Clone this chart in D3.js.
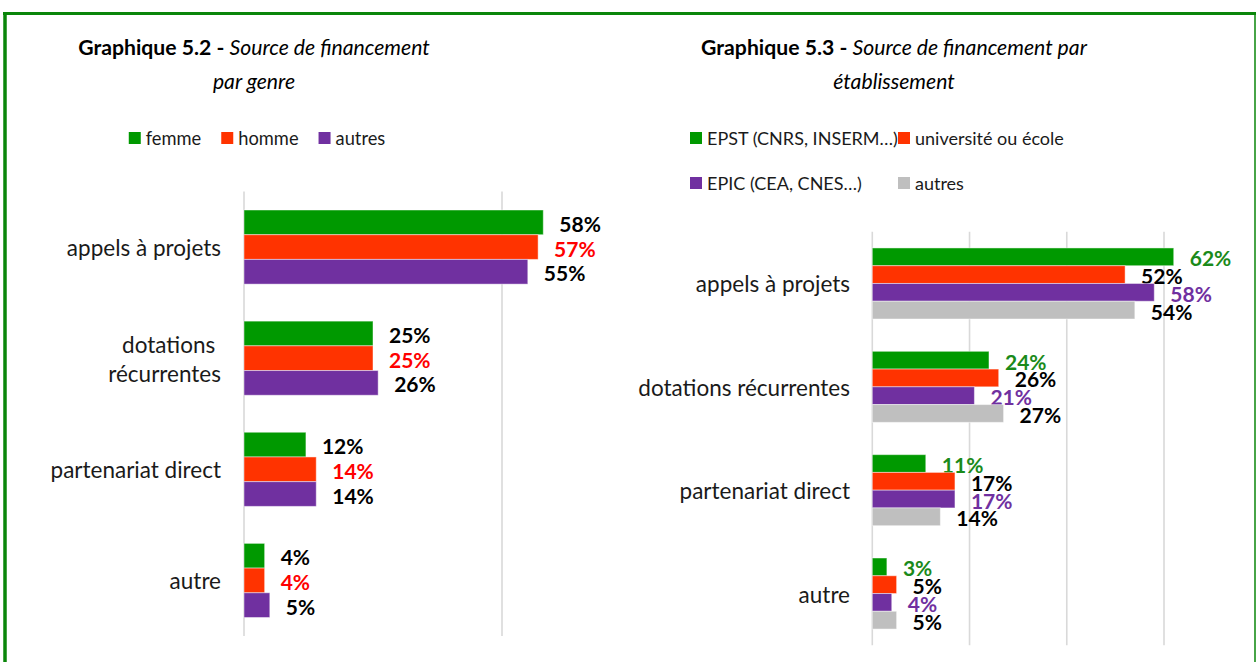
<!DOCTYPE html>
<html>
<head>
<meta charset="utf-8">
<script src="https://cdn.jsdelivr.net/npm/d3@7"></script>
<style>
  html, body { margin: 0; padding: 0; background: #fff; }
  svg { display: block; font-family: Lato, "Open Sans", sans-serif; }
</style>
</head>
<body>
<svg id="chart" width="1256" height="662"></svg>
<script>
// ---- Data ----
const categories = ["appels à projets", "dotations récurrentes", "partenariat direct", "autre"];

// Graphique 5.2 : by gender
const genreSeries = ["femme", "homme", "autres"];
const genreFemme  = [0.58, 0.25, 0.12, 0.04];
const genreHomme  = [0.57, 0.25, 0.14, 0.04];
const genreAutres = [0.55, 0.26, 0.14, 0.05];
const genreTicks  = [0, 0.5];

// Graphique 5.3 : by institution
const etabSeries = ["EPST (CNRS, INSERM…)", "université ou école", "EPIC (CEA, CNES…)", "autres"];
const etabEPST   = [0.62, 0.24, 0.11, 0.03];
const etabUniv   = [0.52, 0.26, 0.17, 0.05];
const etabEPIC   = [0.58, 0.21, 0.17, 0.04];
const etabAutres = [0.54, 0.27, 0.14, 0.05];
const etabTicks  = [0, 0.2, 0.4, 0.6];

const svg = d3.select("#chart");
const pct = d3.format(".0%");
const TEXT = "#1a1a1a";

// ---- Frame ----
const frame = svg.append("g").attr("stroke", "#0a860a").attr("fill", "none");
frame.append("line").attr("x1", 3).attr("x2", 1256).attr("y1", 13.5).attr("y2", 13.5).attr("stroke-width", 3);
frame.append("line").attr("x1", 5).attr("x2", 5).attr("y1", 12).attr("y2", 662).attr("stroke-width", 3.5);
frame.append("line").attr("x1", 1255).attr("x2", 1255).attr("y1", 12).attr("y2", 662).attr("stroke-width", 1.5);

function title(cx, bold, line1, line2) {
  const t = svg.append("text").attr("text-anchor", "middle").attr("fill", "#000").attr("font-size", 21.2);
  const l1 = t.append("tspan").attr("x", cx).attr("y", 55);
  l1.append("tspan").attr("font-weight", "bold").text(bold + " - ");
  l1.append("tspan").attr("font-style", "italic").text(line1);
  t.append("tspan").attr("x", cx).attr("y", 89).attr("font-style", "italic").text(line2);
}

function drawChart(cfg) {
  const g = svg.append("g");
  const x = d3.scaleLinear().domain(cfg.xDomain).range(cfg.xRange);
  const y = d3.scaleBand().domain(categories).range(cfg.yRange)
    .paddingInner(cfg.padInner).paddingOuter(cfg.padInner / 2);
  const ys = d3.scaleBand().domain(cfg.series).range([0, y.bandwidth()]);

  // vertical gridlines
  g.append("g").selectAll("line").data(cfg.ticks).join("line")
    .attr("x1", d => x(d)).attr("x2", d => x(d))
    .attr("y1", cfg.yRange[0]).attr("y2", cfg.yRange[1])
    .attr("stroke", "#d9d9d9").attr("stroke-width", 1.6);

  // category labels (wrapped when too wide)
  const lab = g.append("g").attr("font-size", 22.5).attr("fill", TEXT).attr("text-anchor", "end");
  categories.forEach(c => {
    const words = c.split(" ");
    const probe = lab.append("text").text(c);
    const w = probe.node().getComputedTextLength();
    probe.remove();
    let lines = [c];
    if (w > cfg.labelMax) {
      const half = Math.ceil(words.length / 2);
      lines = [words.slice(0, half).join(" ") + "\u00A0", words.slice(half).join(" ")];
    }
    const cy = y(c) + y.bandwidth() / 2;
    const lh = 29;
    const t = lab.append("text").attr("dominant-baseline", "central");
    lines.forEach((ln, i) => {
      t.append("tspan").attr("x", cfg.labelX)
        .attr("y", cy + (i - (lines.length - 1) / 2) * lh).text(ln);
    });
  });

  // bars and value labels
  cfg.series.forEach((s, si) => {
    const vals = cfg.values[si];
    g.append("g").selectAll("rect").data(categories).join("rect")
      .attr("x", x(0))
      .attr("y", (c) => y(c) + ys(s))
      .attr("width", (c, i) => x(vals[i]) - x(0))
      .attr("height", ys.bandwidth())
      .attr("fill", cfg.colors[si])
      .attr("stroke", "rgba(255,255,255,0.45)").attr("stroke-width", 1);
    g.append("g").selectAll("text").data(categories).join("text")
      .attr("x", (c, i) => x(vals[i]) + 16)
      .attr("y", (c) => y(c) + ys(s) + ys.bandwidth() / 2 + 1)
      .attr("dominant-baseline", "central")
      .attr("font-size", 21).attr("font-weight", "bold")
      .attr("fill", cfg.labelColors[si])
      .text((c, i) => pct(vals[i]));
  });
}

// ---- Graphique 5.2 ----
title(254, "Graphique 5.2", "Source de financement", "par genre");
const genreColors = ["#009900", "#ff3300", "#7030a0"];
(function legendGenre() {
  const lg = svg.append("g").attr("font-size", 18.3).attr("fill", TEXT);
  let xPos = 0;
  const items = [];
  genreSeries.forEach((s, i) => {
    const it = lg.append("g");
    it.append("rect").attr("x", 0).attr("y", 132).attr("width", 12).attr("height", 12).attr("fill", genreColors[i]);
    const t = it.append("text").attr("x", 17).attr("y", 138).attr("dominant-baseline", "central").text(s);
    const w = 17 + t.node().getComputedTextLength();
    items.push({ it, w });
  });
  const total = d3.sum(items, d => d.w) + 20 * (items.length - 1);
  xPos = 257 - total / 2;
  items.forEach(d => { d.it.attr("transform", `translate(${xPos},0)`); xPos += d.w + 20; });
})();
drawChart({
  series: genreSeries,
  values: [genreFemme, genreHomme, genreAutres],
  colors: genreColors,
  labelColors: ["#000", "#ff0000", "#000"],
  xDomain: [0, 0.5], xRange: [244, 502],
  yRange: [191.5, 636], padInner: 0.333,
  ticks: genreTicks, labelX: 221, labelMax: 185
});

// ---- Graphique 5.3 ----
title(894, "Graphique 5.3", "Source de financement par", "établissement");
const etabColors = ["#009900", "#ff3300", "#7030a0", "#bfbfbf"];
(function legendEtab() {
  const lg = svg.append("g").attr("font-size", 18).attr("fill", TEXT);
  const pos = [[690, 138], [898, 138], [690, 183], [898, 183]];
  etabSeries.forEach((s, i) => {
    const [px, py] = pos[i];
    lg.append("rect").attr("x", px).attr("y", py - 6).attr("width", 12).attr("height", 12).attr("fill", etabColors[i]);
    lg.append("text").attr("x", px + 17).attr("y", py).attr("dominant-baseline", "central").text(s);
  });
})();
drawChart({
  series: etabSeries,
  values: [etabEPST, etabUniv, etabEPIC, etabAutres],
  colors: etabColors,
  labelColors: ["#1a8a1a", "#000", "#7030a0", "#000"],
  xDomain: [0, 0.6], xRange: [872.3, 1164],
  yRange: [231.8, 645.2], padInner: 0.3127,
  ticks: etabTicks, labelX: 850, labelMax: 400
});
</script>
</body>
</html>
